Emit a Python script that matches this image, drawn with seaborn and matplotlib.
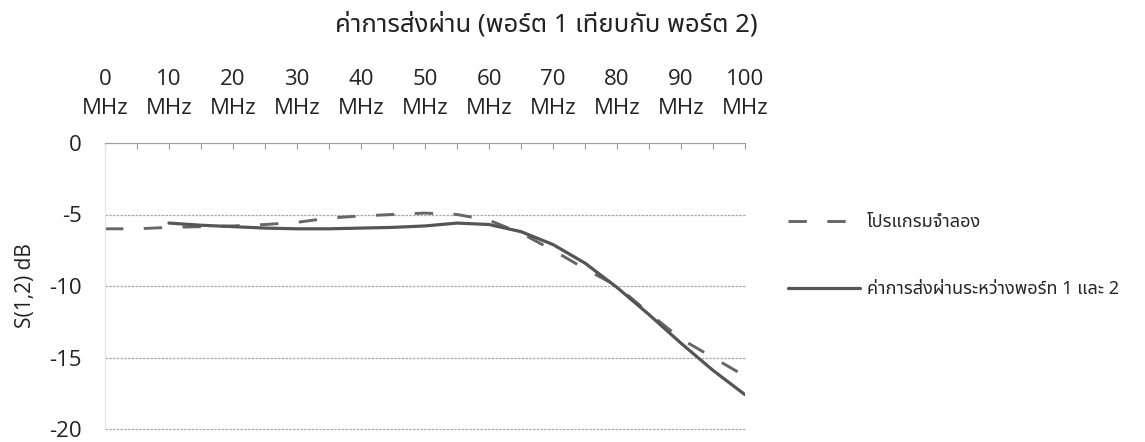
import matplotlib
matplotlib.use("Agg")
import matplotlib.pyplot as plt
from matplotlib import font_manager
from matplotlib.ticker import MultipleLocator, FixedLocator
import seaborn as sns
import pandas as pd
from fontTools.ttLib import TTFont

# ---- data -------------------------------------------------------------
sim_freq = [0, 5, 10, 15, 20, 25, 30, 35, 40, 45, 50, 55, 60, 65, 70, 75, 80, 85, 90, 95, 100]
sim_db = [-6.0, -6.0, -5.9, -5.85, -5.8, -5.7, -5.55, -5.25, -5.1, -5.0, -4.9, -5.0, -5.4,
          -6.3, -7.5, -8.8, -10.0, -11.9, -13.7, -15.0, -16.3]

meas_freq = [10, 15, 20, 25, 30, 35, 40, 45, 50, 55, 60, 65, 70, 75, 80, 85, 90, 95, 100]
meas_db = [-5.6, -5.75, -5.85, -5.95, -6.0, -6.0, -5.95, -5.9, -5.8, -5.6, -5.7, -6.2,
           -7.1, -8.4, -10.1, -12.0, -14.0, -15.9, -17.6]

tick_freqs = [0, 10, 20, 30, 40, 50, 60, 70, 80, 90, 100]
tick_labels = [f"{f}\nMHz" for f in tick_freqs]
y_ticks = [0, -5, -10, -15, -20]

title_text = "ค่าการส่งผ่าน (พอร์ต 1 เทียบกับ พอร์ต 2)"
sim_label = "โปรแกรมจำลอง"
meas_label = "ค่าการส่งผ่านระหว่างพอร์ท 1 และ 2"
y_label = "S(1,2) dB"


def thai_family():
    """Pick an installed family that covers the Thai block."""
    preferred = ["Noto Sans Thai", "Noto Sans Thai UI", "Noto Sans Thai Looped", "Loma",
                 "Garuda", "Waree", "Tlwg Typo", "Sawasdee", "Umpush", "Norasi", "Kinnari"]
    names = {f.name for f in font_manager.fontManager.ttflist}
    for p in preferred:
        if p in names:
            return p
    for f in font_manager.fontManager.ttflist:
        try:
            cmap = TTFont(f.fname, fontNumber=0, lazy=True).getBestCmap()
        except Exception:
            continue
        if cmap and 0x0E01 in cmap and 0x0E48 in cmap:
            return f.name
    return "DejaVu Sans"


sns.set_theme(style="white")
thai = thai_family()
latin = "Open Sans"
plt.rcParams["font.family"] = [latin, thai, "DejaVu Sans"]

sim = pd.DataFrame({"freq": sim_freq, "db": sim_db})
meas = pd.DataFrame({"freq": meas_freq, "db": meas_db})

fig = plt.figure(figsize=(11.45, 4.42), dpi=100)
ax = fig.add_axes([105 / 1145, 1 - 429 / 442, 640 / 1145, 286 / 442])

sns.lineplot(data=sim, x="freq", y="db", ax=ax, color="#666666", linewidth=2.1,
             label=sim_label)
ax.lines[-1].set_linestyle((0, (6.3, 7.0)))
sns.lineplot(data=meas, x="freq", y="db", ax=ax, color="#555555", linewidth=2.3,
             label=meas_label)

ax.set_xlim(0, 100)
ax.set_ylim(-20, 0)

# horizontal gridlines
for yv in y_ticks[1:]:
    ax.axhline(yv, color="#a8a8a8", linewidth=0.9, linestyle=(0, (2, 1)), zorder=0,
               clip_on=False)

# frequency axis on top, ticks pointing into the plot
ax.xaxis.tick_top()
ax.xaxis.set_major_locator(FixedLocator(tick_freqs))
ax.xaxis.set_minor_locator(MultipleLocator(5))
ax.set_xticklabels(tick_labels, fontsize=16, color="#222222", linespacing=1.55,
                   family=[latin, "DejaVu Sans"])
ax.tick_params(axis="x", which="both", direction="in", length=4, width=0.8,
               color="#999999", pad=17, top=True, bottom=False)
ax.set_xlabel("")

ax.set_yticks(y_ticks)
ax.set_yticklabels([str(v) for v in y_ticks], fontsize=16, color="#222222",
                   family=[latin, "DejaVu Sans"])
ax.tick_params(axis="y", length=0, pad=17)
ax.set_ylabel(y_label, fontsize=15, color="#222222", family=[latin, "DejaVu Sans"])
ax.yaxis.set_label_coords(-0.108, 0.5)

for side in ("right", "bottom"):
    ax.spines[side].set_visible(False)
ax.spines["top"].set_color("#a0a0a0")
ax.spines["top"].set_linewidth(0.9)
ax.spines["left"].set_color("#e4e4e4")
ax.spines["left"].set_linewidth(0.8)

handles, labels = ax.get_legend_handles_labels()
ax.legend_.remove()
fig.legend(handles, labels, loc="upper left", bbox_to_anchor=(772 / 1145, 1 - 197 / 442),
           frameon=False, handlelength=4.0, handletextpad=0.35,
           labelspacing=2.7, prop={"family": [thai, "DejaVu Sans"], "size": 13})

fig.text(546 / 1145, 1 - 25 / 442, title_text, ha="center", va="center", fontsize=18.5,
         color="#222222", family=[thai, latin, "DejaVu Sans"])

fig.savefig("out.png", dpi=100, facecolor="white")
